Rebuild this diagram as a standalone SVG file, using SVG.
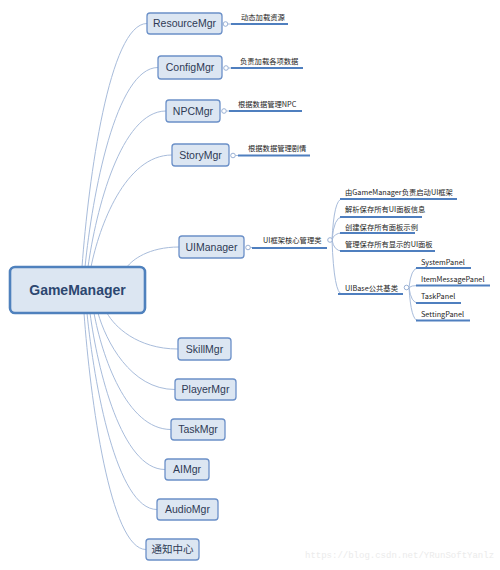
<svg xmlns="http://www.w3.org/2000/svg" width="500" height="570" viewBox="0 0 500 570">
<style>
.node rect{fill:#dce6f2;stroke:#6b90c8;stroke-width:1.3}
.node text{font-family:"Liberation Sans","Noto Sans CJK SC",sans-serif;font-size:10.5px;fill:#2e3a55;text-anchor:middle}
#root rect{stroke:#4f81bd;stroke-width:2.6}
#root text{font-size:14px;font-weight:bold;fill:#2c4770}
.c{fill:none;stroke:#a8bcdb;stroke-width:1}
.u{fill:none;stroke:#4f7fbf;stroke-width:1.8}
.dot{fill:#fff;stroke:#8fa8cf;stroke-width:0.9}
.t{font-family:"Noto Sans CJK SC","Liberation Sans",sans-serif;font-size:7.3px;fill:#222}
.wm{font-family:"Liberation Mono",monospace;font-size:9px;fill:#ebebeb}
</style>
<rect width="500" height="570" fill="#fff"/>
<g id="connectors">
<path class="c" d="M82,267 C88.5,179.3 109.3,23.5 147,23.5"/>
<path class="c" d="M85,267 C92.3,195.2 115.7,67.5 158,67.5"/>
<path class="c" d="M88,267 C95.8,210.8 120.8,111 166,111"/>
<path class="c" d="M91,267 C99.1,226.7 125,155 172,155"/>
<path class="c" d="M127,267 C132.2,259.8 148.8,247 179,247"/>
<path class="c" d="M107,313 C114.1,326 136.8,349 178,349"/>
<path class="c" d="M98,313 C105.7,340.5 130.3,389.5 175,389.5"/>
<path class="c" d="M94,313 C101.7,354.9 126.3,429.5 171,429.5"/>
<path class="c" d="M90,313 C97.5,369.3 121.5,469.5 165,469.5"/>
<path class="c" d="M87,313 C94,383.7 116.4,509.5 157,509.5"/>
<path class="c" d="M84,313 C90.2,398.1 110,549.5 146,549.5"/>
<path class="c" d="M227.8,24 H231"/>
<path class="u" d="M231,24 H288"/>
<path class="c" d="M228.3,68 H231"/>
<path class="u" d="M231,68 H303"/>
<path class="c" d="M226.3,111 H229"/>
<path class="u" d="M229,111 H302"/>
<path class="c" d="M235.3,155.5 H238"/>
<path class="u" d="M238,155.5 H310"/>
<path class="c" d="M250.3,247.5 H252"/>
<path class="u" d="M252,248 H327"/>
<path class="c" d="M332,240 Q334,199 342,199"/>
<path class="c" d="M332,240 Q334,217 342,217"/>
<path class="c" d="M332,240 Q334,233 342,233"/>
<path class="c" d="M332,240 Q334,251 342,251"/>
<path class="c" d="M332,240 Q334,294 342,294"/>
<path class="u" d="M340,199 H457"/>
<path class="u" d="M340,217 H422"/>
<path class="u" d="M340,233 H415"/>
<path class="u" d="M340,251 H435"/>
<path class="u" d="M338,294 H403"/>
<path class="c" d="M409,287.5 Q411,268 418,268"/>
<path class="c" d="M409,287.5 Q411,285.5 418,285.5"/>
<path class="c" d="M409,287.5 Q411,303 418,303"/>
<path class="c" d="M409,287.5 Q411,320.5 418,320.5"/>
<path class="u" d="M416,268 H471"/>
<path class="u" d="M416,285.5 H490"/>
<path class="u" d="M416,303 H461"/>
<path class="u" d="M416,320.5 H470"/>
<circle class="dot" cx="225.5" cy="24" r="2.3"/>
<circle class="dot" cx="226" cy="68" r="2.3"/>
<circle class="dot" cx="224" cy="111" r="2.3"/>
<circle class="dot" cx="233" cy="155.5" r="2.3"/>
<circle class="dot" cx="248" cy="247.5" r="2.3"/>
<circle class="dot" cx="330" cy="240" r="2.3"/>
<circle class="dot" cx="406.5" cy="287.5" r="2.3"/>
</g>
<g id="root" class="node"><rect x="10" y="267" width="135" height="46" rx="5"/><text x="77.5" y="295">GameManager</text></g>
<g id="resourcemgr" class="node"><rect x="147" y="13" width="75" height="21" rx="3"/><text x="184.5" y="27.3">ResourceMgr</text></g>
<g id="configmgr" class="node"><rect x="158" y="56" width="64" height="23" rx="3"/><text x="190" y="71.3">ConfigMgr</text></g>
<g id="npcmgr" class="node"><rect x="166" y="100" width="54" height="22" rx="3"/><text x="193" y="114.8">NPCMgr</text></g>
<g id="storymgr" class="node"><rect x="172" y="144" width="57" height="22" rx="3"/><text x="200.5" y="158.8">StoryMgr</text></g>
<g id="uimanager" class="node"><rect x="179" y="236" width="65" height="22" rx="3"/><text x="211.5" y="250.8">UIManager</text></g>
<g id="skillmgr" class="node"><rect x="178" y="338" width="53" height="22" rx="3"/><text x="204.5" y="352.8">SkillMgr</text></g>
<g id="playermgr" class="node"><rect x="175" y="379" width="61" height="21" rx="3"/><text x="205.5" y="393.3">PlayerMgr</text></g>
<g id="taskmgr" class="node"><rect x="171" y="419" width="54" height="21" rx="3"/><text x="198" y="433.3">TaskMgr</text></g>
<g id="aimgr" class="node"><rect x="165" y="459" width="44" height="21" rx="3"/><text x="187" y="473.3">AIMgr</text></g>
<g id="audiomgr" class="node"><rect x="157" y="499" width="61" height="21" rx="3"/><text x="187.5" y="513.3">AudioMgr</text></g>
<g id="notify" class="node"><rect x="146" y="539" width="53" height="21" rx="3"/><text x="172.5" y="553.3">通知中心</text></g>
<g id="leaves">
<text class="t" x="241" y="19.6">动态加载资源</text>
<text class="t" x="240" y="63.6">负责加载各项数据</text>
<text class="t" x="238" y="106.6">根据数据管理NPC</text>
<text class="t" x="248" y="150.6">根据数据管理剧情</text>
<text class="t" x="263" y="242.6">UI框架核心管理类</text>
<text class="t" x="345" y="194.6">由GameManager负责启动UI框架</text>
<text class="t" x="345" y="211.6">解析保存所有UI面板信息</text>
<text class="t" x="345" y="229.6">创建保存所有面板示例</text>
<text class="t" x="345" y="246.6">管理保存所有显示的UI面板</text>
<text class="t" x="345" y="290.6">UIBase公共基类</text>
<text class="t" x="421" y="264.6">SystemPanel</text>
<text class="t" x="421" y="281.6">ItemMessagePanel</text>
<text class="t" x="421" y="298.6">TaskPanel</text>
<text class="t" x="421" y="316.6">SettingPanel</text>
</g>
<text class="wm" x="305" y="558">https://blog.csdn.net/YRunSoftYanlz</text>
</svg>
